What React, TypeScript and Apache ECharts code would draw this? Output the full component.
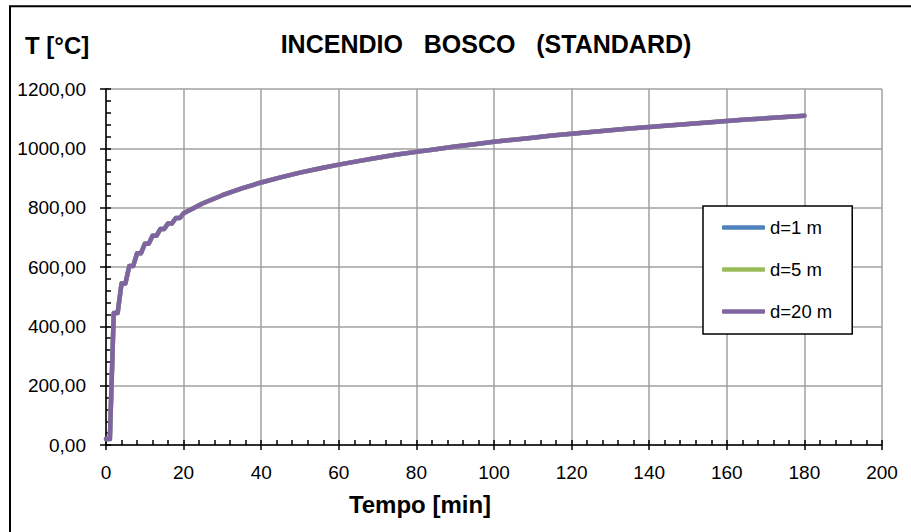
import React, { useEffect, useRef } from "react";
import * as echarts from "echarts";

// Time [min]
const times = [
  0, 1, 2, 3, 4, 5, 6, 7, 8, 9, 10, 11, 12, 13, 14, 15, 16, 17, 18, 19, 20,
  25, 30, 35, 40, 45, 50, 55, 60, 65, 70, 75, 80, 85, 90, 95, 100, 105, 110,
  115, 120, 125, 130, 135, 140, 145, 150, 155, 160, 165, 170, 175, 180,
];

// Temperature [°C] for each distance
const tempD1 = [
  20, 20, 445, 445, 544, 544, 603, 603, 646, 646, 678, 678, 705, 705, 728, 728,
  747, 747, 765, 765, 781, 815, 842, 865, 885, 902, 918, 932, 945, 957, 968,
  979, 988, 997, 1006, 1014, 1022, 1029, 1036, 1043, 1049, 1055, 1061, 1067,
  1072, 1077, 1082, 1087, 1092, 1097, 1101, 1106, 1110,
];
const tempD5 = [
  20, 20, 445, 445, 544, 544, 603, 603, 646, 646, 678, 678, 705, 705, 728, 728,
  747, 747, 765, 765, 781, 815, 842, 865, 885, 902, 918, 932, 945, 957, 968,
  979, 988, 997, 1006, 1014, 1022, 1029, 1036, 1043, 1049, 1055, 1061, 1067,
  1072, 1077, 1082, 1087, 1092, 1097, 1101, 1106, 1110,
];
const tempD20 = [
  20, 20, 445, 445, 544, 544, 603, 603, 646, 646, 678, 678, 705, 705, 728, 728,
  747, 747, 765, 765, 781, 815, 842, 865, 885, 902, 918, 932, 945, 957, 968,
  979, 988, 997, 1006, 1014, 1022, 1029, 1036, 1043, 1049, 1055, 1061, 1067,
  1072, 1077, 1082, 1087, 1092, 1097, 1101, 1106, 1110,
];

const seriesNames = ["d=1 m", "d=5 m", "d=20 m"];
const seriesColors = ["#4F81BD", "#9BBB59", "#8064A2"];
const seriesValues = [tempD1, tempD5, tempD20];

const titleText = "INCENDIO   BOSCO   (STANDARD)";
const yName = "T [°C]";
const xName = "Tempo [min]";

const FONT = "'Liberation Sans', Arial, sans-serif";

export default function App() {
  const ref = useRef<HTMLDivElement>(null);

  useEffect(() => {
    if (!ref.current) return;
    const chart = echarts.init(ref.current, null, { renderer: "svg" });

    const axisLineStyle = { color: "#000", width: 1.5 };
    const labelStyle = { color: "#000", fontSize: 19, fontFamily: FONT };

    const option: any = {
      animation: false,
      backgroundColor: "#fff",
      grid: {
        left: 106,
        right: 29,
        top: 89,
        bottom: 87,
        containLabel: false,
        outerBoundsMode: "none",
      },
      xAxis: [
        {
          type: "value",
          position: "bottom",
          min: 0,
          max: 200,
          interval: 20,
          axisLine: { show: true, onZero: false, lineStyle: axisLineStyle },
          axisTick: { show: true, inside: false, length: 5, lineStyle: axisLineStyle },
          axisLabel: { ...labelStyle, margin: 18 },
          splitLine: { show: true, lineStyle: { color: "#A0A0A0", width: 1.5 } },
          minorTick: { show: false },
        },
        {
          type: "value",
          position: "bottom",
          min: 0,
          max: 200,
          interval: 20,
          axisLine: { show: false, onZero: false },
          axisTick: { show: true, inside: true, length: 5, lineStyle: axisLineStyle },
          axisLabel: { show: false },
          splitLine: { show: false },
          minorTick: { show: true, splitNumber: 5, length: 5, lineStyle: axisLineStyle },
        },
      ],
      yAxis: [
        {
          type: "value",
          position: "left",
          min: 0,
          max: 1200,
          interval: 200,
          axisLine: { show: true, onZero: false, lineStyle: axisLineStyle },
          axisTick: { show: true, inside: false, length: 6, lineStyle: axisLineStyle },
          axisLabel: {
            ...labelStyle,
            margin: 20,
            formatter: (v: number) => v.toFixed(2).replace(".", ","),
          },
          splitLine: { show: true, lineStyle: { color: "#A0A0A0", width: 1.5 } },
        },
        {
          type: "value",
          position: "left",
          min: 0,
          max: 1200,
          interval: 200,
          axisLine: { show: false, onZero: false },
          axisTick: { show: true, inside: true, length: 5, lineStyle: axisLineStyle },
          axisLabel: { show: false },
          splitLine: { show: false },
          minorTick: { show: true, splitNumber: 5, length: 5, lineStyle: axisLineStyle },
        },
      ],
      legend: {
        orient: "vertical",
        left: 703,
        top: 206,
        padding: [12, 20, 13, 19],
        icon: "roundRect",
        itemWidth: 43,
        itemHeight: 4.5,
        itemGap: 23,
        backgroundColor: "#fff",
        borderColor: "#000",
        borderWidth: 1.5,
        borderRadius: 0,
        textStyle: { color: "#000", fontSize: 18.5, fontFamily: FONT },
        data: seriesNames,
      },
      series: seriesNames.map((name, i) => ({
        name,
        type: "line",
        xAxisIndex: 0,
        yAxisIndex: 0,
        symbol: "none",
        showSymbol: false,
        color: seriesColors[i],
        itemStyle: { color: seriesColors[i] },
        lineStyle: { width: 4.5, color: seriesColors[i], cap: "round", join: "round" },
        data: times.map((t, k) => [t, seriesValues[i][k]]),
        z: 3 + i,
      })),
      graphic: [
        {
          type: "rect",
          silent: true,
          z: -10,
          shape: { x: 10, y: 6.3, width: 1200, height: 900 },
          style: { fill: "none", stroke: "#000", lineWidth: 2 },
        },
        {
          type: "text",
          x: 486,
          y: 44,
          style: {
            text: titleText,
            fill: "#000",
            font: `bold 25px ${FONT}`,
            align: "center",
            verticalAlign: "middle",
          },
        },
        {
          type: "text",
          x: 25,
          y: 45,
          style: {
            text: yName,
            fill: "#000",
            font: `bold 24px ${FONT}`,
            align: "left",
            verticalAlign: "middle",
          },
        },
        {
          type: "text",
          x: 420,
          y: 504,
          style: {
            text: xName,
            fill: "#000",
            font: `bold 24px ${FONT}`,
            align: "center",
            verticalAlign: "middle",
          },
        },
      ],
    };

    chart.setOption(option);
    return () => chart.dispose();
  }, []);

  return (
    <div
      ref={ref}
      style={{ position: "fixed", left: 0, top: 0, width: 911, height: 532 }}
    />
  );
}
